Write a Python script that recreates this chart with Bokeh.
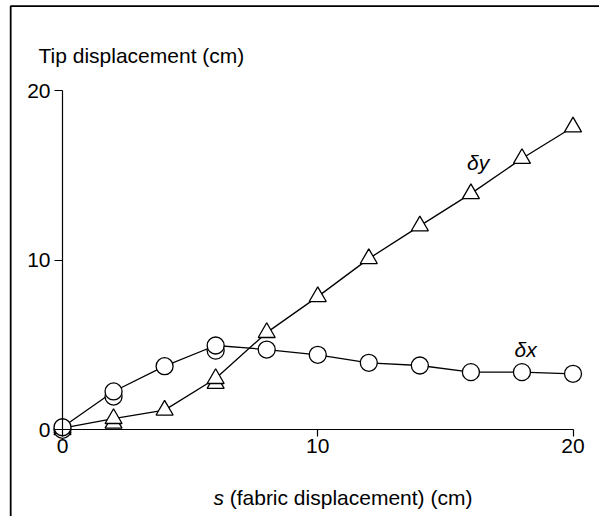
from bokeh.plotting import figure
from bokeh.models import (LinearAxis, FixedTicker, Range1d, Label, BoxAnnotation,
                          ColumnDataSource)
from bokeh.embed import file_html
from bokeh.resources import INLINE

# Fabric displacement s (cm) and tip displacements (cm)
s_values = [0, 2, 4, 6, 8, 10, 12, 14, 16, 18, 20]
delta_x = [0.15, 2.26, 3.75, 4.97, 4.73, 4.42, 3.95, 3.79, 3.40, 3.40, 3.30]
delta_y = [0.10, 0.66, 1.16, 3.02, 5.73, 7.85, 10.09, 12.02, 13.92, 15.99, 17.85]

# Repeated measurements at a few positions
s_repeat = [0, 2, 6]
delta_x_repeat = [0.0, 1.96, 4.67]
delta_y_repeat = [0.0, 0.39, 2.73]

x_ticks = [0, 10, 20]
y_ticks = [0, 10, 20]

FONT = "Liberation Sans"
FS = "21px"

main = ColumnDataSource(dict(s=s_values, dx=delta_x, dy=delta_y))
rep = ColumnDataSource(dict(s=s_repeat, dx=delta_x_repeat, dy=delta_y_repeat))

p = figure(width=599, height=516, output_backend="svg", toolbar_location=None,
           x_axis_location=None, y_axis_location=None,
           x_range=Range1d(-2.429, 21.038), y_range=Range1d(-5.11, 25.305),
           min_border=0, min_border_left=0, min_border_right=0,
           min_border_top=0, min_border_bottom=0)
p.outline_line_color = None
p.background_fill_color = "white"
p.border_fill_color = "white"
p.xgrid.visible = False
p.ygrid.visible = False

# Frame lines along the top and left edge
p.add_layout(BoxAnnotation(left=-2.03, right=60, top=24.97, bottom=-60,
                           fill_alpha=0, line_color="black", line_alpha=1.0,
                           line_width=1.8))


def style_axis(ax, ticks, tick_out, standoff):
    ax.ticker = FixedTicker(ticks=ticks)
    ax.bounds = (0, 20)
    ax.fixed_location = 0
    ax.axis_line_color = "black"
    ax.axis_line_width = 1.2
    ax.major_tick_line_color = "black"
    ax.major_tick_line_width = 1.2
    ax.major_tick_out = tick_out
    ax.major_tick_in = 0
    ax.minor_tick_line_color = None
    ax.major_label_text_font = FONT
    ax.major_label_text_font_size = FS
    ax.major_label_text_color = "black"
    ax.major_label_standoff = standoff


yax = LinearAxis()
style_axis(yax, y_ticks, 8, 4)
p.add_layout(yax, "left")

xax = LinearAxis()
style_axis(xax, x_ticks, 7, 2)
p.add_layout(xax, "below")

# Connecting lines
p.line("s", "dy", source=main, line_color="black", line_width=1.3)
p.line("s", "dx", source=main, line_color="black", line_width=1.3)

# Repeated points sit behind the main ones
p.scatter("s", "dy", source=rep, marker="triangle", size=17,
          fill_color="white", line_color="black", line_width=1.3)
p.scatter("s", "dx", source=rep, marker="circle", size=17,
          fill_color="white", line_color="black", line_width=1.3)
p.scatter("s", "dy", source=main, marker="triangle", size=17,
          fill_color="white", line_color="black", line_width=1.3)
p.scatter("s", "dx", source=main, marker="circle", size=17,
          fill_color="white", line_color="black", line_width=1.3)

# Titles and series labels
p.add_layout(Label(x=-0.94, y=22.06, text="Tip displacement (cm)",
                   text_font=FONT, text_font_size=FS, text_color="black",
                   text_baseline="alphabetic"))
p.add_layout(Label(x=5.916, y=-3.99, text="s", text_font=FONT,
                   text_font_style="italic", text_font_size=FS,
                   text_color="black", text_baseline="alphabetic"))
p.add_layout(Label(x=6.55, y=-3.99, text="(fabric displacement) (cm)",
                   text_font=FONT, text_font_size=FS, text_color="black",
                   text_baseline="alphabetic"))
p.add_layout(Label(x=17.71, y=4.73, text="δx", text_font=FONT,
                   text_font_style="italic", text_font_size=FS,
                   text_color="black", text_baseline="alphabetic"))
p.add_layout(Label(x=15.85, y=15.76, text="δy", text_font=FONT,
                   text_font_style="italic", text_font_size=FS,
                   text_color="black", text_baseline="alphabetic"))

open("out.html", "w").write(file_html(p, INLINE))
